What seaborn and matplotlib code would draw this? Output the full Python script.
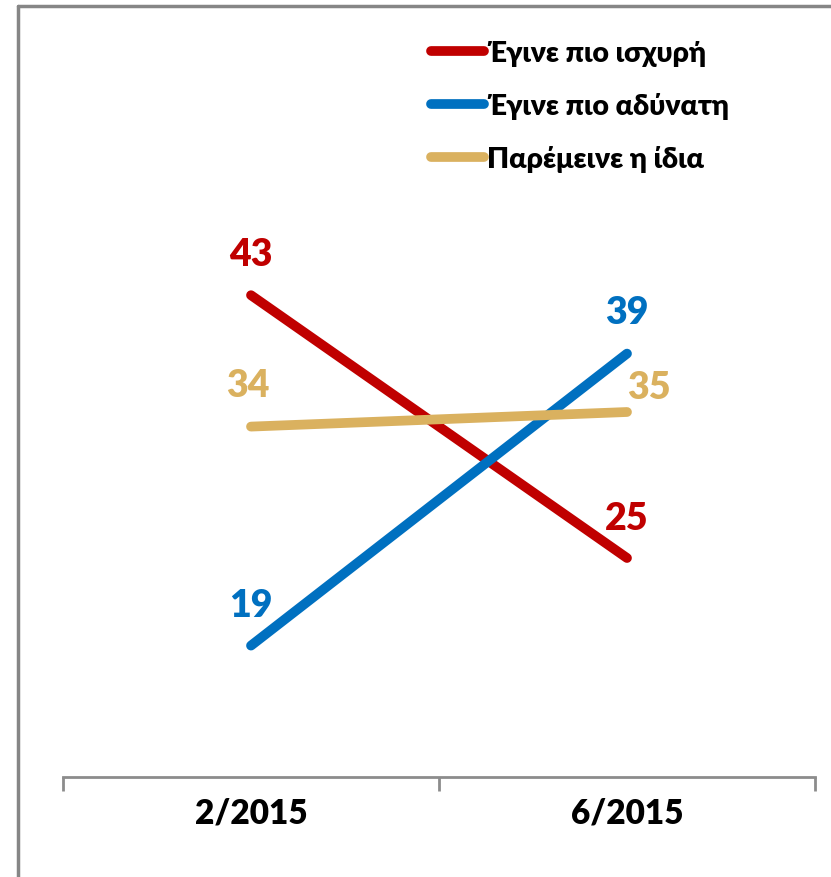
import matplotlib
matplotlib.use("Agg")
import matplotlib.pyplot as plt
from matplotlib.lines import Line2D
import seaborn as sns
import pandas as pd

periods = ["2/2015", "6/2015"]
series_names = ["Έγινε πιο ισχυρή", "Έγινε πιο αδύνατη", "Παρέμεινε η ίδια"]
stronger = [43, 25]
weaker = [19, 39]
same = [34, 35]
colors = ["#C00000", "#0070C0", "#DAB15F"]

sns.set_theme(style="white")
plt.rcParams['font.family'] = ['Lato', 'Noto Sans', 'DejaVu Sans']
plt.rcParams['text.color'] = 'black'

rows = []
for name, vals in zip(series_names, [stronger, weaker, same]):
    for i, (p, v) in enumerate(zip(periods, vals)):
        rows.append({"period": p, "pos": i, "value": v, "series": name})
df = pd.DataFrame(rows)

W, H = 831, 878
fig = plt.figure(figsize=(W / 100, H / 100), dpi=100)
ax = fig.add_axes([63 / W, (H - 778) / H, 752 / W, 730 / H])

sns.lineplot(data=df, x="pos", y="value", hue="series", hue_order=series_names,
             palette=colors, linewidth=7, solid_capstyle="round", ax=ax,
             legend=False, sort=False)

ax.set_xlim(-0.5, 1.5)
ax.set_ylim(10, 60)
ax.set_xlabel("")
ax.set_ylabel("")
ax.set_yticks([])
ax.set_xticks([0, 1])
ax.set_xticklabels(periods, fontsize=24, fontweight="heavy", color="black")
ax.tick_params(axis="x", which="major", bottom=False, length=0, pad=14)
ax.set_xticks([-0.5, 0.5, 1.5], minor=True)
ax.tick_params(axis="x", which="minor", bottom=True, length=10, width=2,
               color="#8C8C8C", direction="out")
for s in ["left", "top", "right"]:
    ax.spines[s].set_visible(False)
ax.spines["bottom"].set_color("#8C8C8C")
ax.spines["bottom"].set_linewidth(2)

# data labels
offsets = {
    (0, 0): (0, 30), (0, 1): (0, 29),
    (1, 0): (0, 29), (1, 1): (0, 30),
    (2, 0): (-2, 30), (2, 1): (16, 18),
}
for si, (name, vals, c) in enumerate(zip(series_names, [stronger, weaker, same], colors)):
    for i, v in enumerate(vals):
        dx, dy = offsets[(si, i)]
        ax.annotate(str(v), xy=(i, v), xytext=(dx, dy), textcoords="offset points",
                    ha="center", va="center", fontsize=27, fontweight="heavy", color=c)

handles = [Line2D([0], [0], color=c, lw=7, solid_capstyle="round") for c in colors]
leg = fig.legend(handles, series_names, loc="upper left",
                 bbox_to_anchor=(420 / W, 1 - 30 / H), frameon=False,
                 prop={"size": 20.5, "weight": "heavy"}, handlelength=1.85,
                 handletextpad=0.12, labelspacing=0.9, borderaxespad=0)
for t in leg.get_texts():
    t.set_color("black")

# figure border (top and left edges visible)
fig.add_artist(Line2D([18 / W, 1], [1 - 6.5 / H, 1 - 6.5 / H], color="#868686", lw=2.5,
                      transform=fig.transFigure))
fig.add_artist(Line2D([18 / W, 18 / W], [0, 1 - 6.5 / H], color="#868686", lw=2.5,
                      transform=fig.transFigure))

fig.savefig("out.png", dpi=100)
